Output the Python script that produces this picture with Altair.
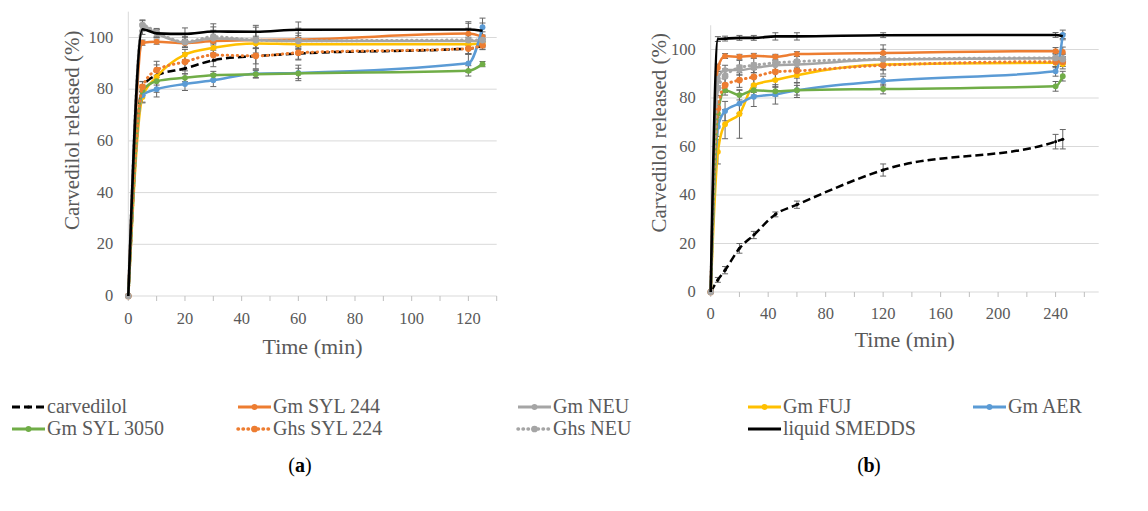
import altair as alt
import pandas as pd

FONT = "Liberation Serif"
TXT = "#595959"
AXC = "#D9D9D9"
TICKC = "#BFBFBF"
ERRC = "#666666"
W, H = 1132, 495

series = ["carvedilol", "Gm SYL 244", "Gm NEU", "Gm FUJ", "Gm AER",
          "Gm SYL 3050", "Ghs SYL 224", "Ghs NEU", "liquid SMEDDS"]

# ---- panel (a) ----
time_a = [0, 5, 10, 20, 30, 45, 60, 120, 125]
a_carvedilol = [0, 81.0, 85.4, 88.0, 91.2, 92.8, 93.8, 95.7, 96.8]
a_gm_syl244 = [0, 98.0, 98.4, 97.8, 98.6, 99.0, 99.2, 101.5, 100.2]
a_gm_neu = [0, 104.5, 101.5, 98.1, 99.6, 99.0, 98.6, 98.6, 98.6]
a_gm_fuj = [0, 77.0, 84.8, 93.4, 96.0, 97.7, 97.4, 97.4, 97.7]
a_gm_aer = [0, 77.7, 80.0, 82.0, 83.5, 86.0, 86.3, 90.0, 104.0]
a_gm_syl3050 = [0, 79.6, 83.1, 84.4, 85.4, 85.8, 86.1, 87.1, 89.7]
a_ghs_syl224 = [0, 80.9, 87.4, 90.6, 93.2, 92.9, 94.1, 95.7, 97.0]
a_ghs_neu = [0, 104.8, 102.0, 98.3, 100.3, 99.0, 98.7, 99.0, 99.0]
a_smedds = [0, 103.2, 101.6, 101.4, 102.3, 102.2, 103.0, 103.1, 102.6]

a_err_carvedilol = [0, 2, 2, 2, 2.5, 3, 2.5, 2, 1.5]
a_err_gm_syl244 = [0, 1, 1, 1.5, 1.5, 1.5, 1.5, 4, 2]
a_err_gm_neu = [0, 2, 1.5, 2, 4.5, 5, 5, 5, 2]
a_err_gm_fuj = [0, 2, 6, 2, 2, 2, 2, 1.5, 1.5]
a_err_gm_aer = [0, 3, 3, 2.5, 2.5, 1.5, 3, 3.5, 3.5]
a_err_gm_syl3050 = [0, 2, 1.5, 1.5, 1.5, 1.5, 2, 2, 1]
a_err_ghs_syl224 = [0, 2, 2, 3.5, 2.5, 5, 2.5, 2, 1.5]
a_err_ghs_neu = [0, 2, 1.5, 2, 2.5, 3, 3, 2, 2]
a_err_smedds = [0, 2, 1.5, 2.3, 3, 2.5, 3, 3, 3]

# ---- panel (b) ----
time_b = [0, 5, 10, 20, 30, 45, 60, 120, 240, 245]
b_carvedilol = [0, 5.0, 9.0, 18.0, 23.5, 32.0, 36.0, 50.3, 62.0, 63.0]
b_gm_syl244 = [0, 92.5, 97.3, 97.0, 97.4, 97.0, 98.1, 98.6, 99.3, 99.0]
b_gm_neu = [0, 88.0, 91.5, 91.5, 92.4, 93.5, 93.8, 95.9, 96.4, 96.5]
b_gm_fuj = [0, 57.8, 69.2, 73.4, 85.3, 87.4, 89.4, 93.8, 94.5, 94.0]
b_gm_aer = [0, 68.1, 74.6, 77.7, 80.5, 81.5, 83.2, 87.0, 91.0, 106.0]
b_gm_syl3050 = [0, 73.6, 83.2, 81.2, 83.2, 82.8, 83.2, 83.7, 84.8, 89.0]
b_ghs_syl224 = [0, 75.7, 85.3, 87.4, 88.7, 90.8, 91.2, 93.5, 95.0, 95.0]
b_ghs_neu = [0, 84.0, 89.0, 92.5, 93.5, 94.5, 95.0, 96.0, 96.5, 96.0]
b_smedds = [0, 104.3, 104.5, 104.8, 104.8, 105.4, 105.4, 105.9, 106.0, 105.5]

b_err_carvedilol = [0, 1, 1.5, 2, 1.5, 1, 1.5, 2.5, 3, 4]
b_err_gm_syl244 = [0, 1.5, 1, 1, 1, 1, 1, 1.5, 1.5, 2]
b_err_gm_neu = [0, 3, 2, 2, 2, 2, 2, 6, 2, 2]
b_err_gm_fuj = [0, 5, 6, 10, 3, 3, 3, 2, 2, 2]
b_err_gm_aer = [0, 4, 4, 4, 4, 4, 3, 2, 2, 2]
b_err_gm_syl3050 = [0, 3, 2, 2, 2, 2, 2, 2, 2, 2]
b_err_ghs_syl224 = [0, 3, 3, 3, 3, 3, 3, 2, 2, 2]
b_err_ghs_neu = [0, 3, 3, 3, 3, 3, 3, 2, 2, 2]
b_err_smedds = [0, 1, 1, 1, 1, 1.5, 1.5, 1, 1, 1]

# axis ticks / labels
y_ticks = [0, 20, 40, 60, 80, 100]
grid_vals = [20, 40, 60, 80, 100]
x_ticks_a = [0, 10, 20, 30, 40, 50, 60, 70, 80, 90, 100, 110, 120, 130]
x_labels_a = [0, 20, 40, 60, 80, 100, 120]
x_ticks_b = [0, 20, 40, 60, 80, 100, 120, 140, 160, 180, 200, 220, 240, 260]
x_labels_b = [0, 40, 80, 120, 160, 200, 240]
x_title = "Time (min)"
y_title = "Carvedilol released (%)"
panel_labels = ["a", "b"]

vals_a = dict(zip(series, [a_carvedilol, a_gm_syl244, a_gm_neu, a_gm_fuj, a_gm_aer,
                           a_gm_syl3050, a_ghs_syl224, a_ghs_neu, a_smedds]))
errs_a = dict(zip(series, [a_err_carvedilol, a_err_gm_syl244, a_err_gm_neu, a_err_gm_fuj,
                           a_err_gm_aer, a_err_gm_syl3050, a_err_ghs_syl224, a_err_ghs_neu,
                           a_err_smedds]))
vals_b = dict(zip(series, [b_carvedilol, b_gm_syl244, b_gm_neu, b_gm_fuj, b_gm_aer,
                           b_gm_syl3050, b_ghs_syl224, b_ghs_neu, b_smedds]))
errs_b = dict(zip(series, [b_err_carvedilol, b_err_gm_syl244, b_err_gm_neu, b_err_gm_fuj,
                           b_err_gm_aer, b_err_gm_syl3050, b_err_ghs_syl224, b_err_ghs_neu,
                           b_err_smedds]))

DOT = [0.5, 4.5]
style = {
    "carvedilol": dict(color="#000000", dash=[8, 4], width=2.5, size=10, cap="butt"),
    "Gm SYL 244": dict(color="#ED7D31", dash=None, width=2.5, size=34, cap="butt"),
    "Gm NEU": dict(color="#A5A5A5", dash=None, width=2.5, size=34, cap="butt"),
    "Gm FUJ": dict(color="#FFC000", dash=None, width=2.5, size=34, cap="butt"),
    "Gm AER": dict(color="#5B9BD5", dash=None, width=2.5, size=34, cap="butt"),
    "Gm SYL 3050": dict(color="#70AD47", dash=None, width=2.5, size=34, cap="butt"),
    "Ghs SYL 224": dict(color="#ED7D31", dash=DOT, width=3.0, size=45, cap="round"),
    "Ghs NEU": dict(color="#A5A5A5", dash=DOT, width=3.0, size=45, cap="round"),
    "liquid SMEDDS": dict(color="#000000", dash=None, width=2.6, size=0, cap="butt"),
}


def line_mark(st):
    kw = dict(interpolate="monotone", color=st["color"], strokeWidth=st["width"],
              strokeCap=st["cap"])
    if st["dash"]:
        kw["strokeDash"] = st["dash"]
    return kw


def make_panel(times, vals, errs, xmax, x_ticks, x_labels, xr, yr, lab_dy, ytitle_dx,
               ytitle_dy, xtitle_dy):
    xs = alt.Scale(domain=[0, xmax], range=xr, nice=False, zero=False)
    ys = alt.Scale(domain=[0, 110], range=yr, nice=False, zero=False)

    def X(f):
        return alt.X(f, scale=xs, axis=None)

    def Y(f):
        return alt.Y(f, scale=ys, axis=None)

    layers = []
    # gridlines
    gdf = pd.DataFrame({"gy": grid_vals, "gx0": 0, "gx1": xmax})
    layers.append(alt.Chart(gdf).mark_rule(color=AXC, strokeWidth=1).encode(
        x=X("gx0:Q"), x2="gx1:Q", y=Y("gy:Q")))
    # axis lines
    ad = pd.DataFrame({"z": [0], "xm": [xmax], "ym": [110]})
    layers.append(alt.Chart(ad).mark_rule(color=AXC, strokeWidth=1).encode(
        x=X("z:Q"), x2="xm:Q", y=Y("z:Q")))
    layers.append(alt.Chart(ad).mark_rule(color=AXC, strokeWidth=1).encode(
        x=X("z:Q"), y=Y("z:Q"), y2="ym:Q"))
    # x ticks
    tdf = pd.DataFrame({"t": x_ticks, "z": 0})
    layers.append(alt.Chart(tdf).mark_rule(color=TICKC, strokeWidth=1, y2Offset=5).encode(
        x=X("t:Q"), y=Y("z:Q"), y2="z:Q"))
    # x labels
    ldf = pd.DataFrame({"t": x_labels, "z": 0, "lab": [str(v) for v in x_labels]})
    layers.append(alt.Chart(ldf).mark_text(baseline="top", align="center", yOffset=lab_dy,
                                           font=FONT, fontSize=16.5, color=TXT).encode(
        x=X("t:Q"), y=Y("z:Q"), text="lab:N"))
    # y labels
    ydf = pd.DataFrame({"v": y_ticks, "z": 0, "lab": [str(v) for v in y_ticks]})
    layers.append(alt.Chart(ydf).mark_text(baseline="middle", align="right", xOffset=-15,
                                           font=FONT, fontSize=16.5, color=TXT).encode(
        x=X("z:Q"), y=Y("v:Q"), text="lab:N"))
    # axis titles
    xt = pd.DataFrame({"c": [xmax / 2], "z": [0], "lab": [x_title]})
    layers.append(alt.Chart(xt).mark_text(baseline="top", align="center", yOffset=xtitle_dy,
                                          font=FONT, fontSize=22, color=TXT).encode(
        x=X("c:Q"), y=Y("z:Q"), text="lab:N"))
    yt = pd.DataFrame({"z": [0], "ym": [110], "lab": [y_title]})
    layers.append(alt.Chart(yt).mark_text(baseline="middle", align="center", angle=270,
                                          xOffset=ytitle_dx, yOffset=ytitle_dy,
                                          font=FONT, fontSize=21, color=TXT).encode(
        x=X("z:Q"), y=Y("ym:Q"), text="lab:N"))

    # error bars
    rows = []
    for s in series:
        for t, v, e in zip(times, vals[s], errs[s]):
            if e > 0:
                rows.append({"s": s, "t": t, "lo": v - e, "hi": v + e})
    edf = pd.DataFrame(rows)
    cdf = edf.melt(id_vars=["s", "t"], value_vars=["lo", "hi"], value_name="c")
    layers.append(alt.Chart(edf).mark_rule(color=ERRC, strokeWidth=1).encode(
        x=X("t:Q"), y=Y("lo:Q"), y2="hi:Q"))
    layers.append(alt.Chart(cdf).mark_rule(color=ERRC, strokeWidth=1, xOffset=-3,
                                           x2Offset=3).encode(
        x=X("t:Q"), x2="t:Q", y=Y("c:Q")))

    for s in series:
        st = style[s]
        df = pd.DataFrame({"t": times, "v": vals[s]})
        enc = dict(x=X("t:Q"), y=Y("v:Q"))
        layers.append(alt.Chart(df).mark_line(**line_mark(st)).encode(**enc))
        if st["size"] > 0:
            layers.append(alt.Chart(df).mark_point(filled=True, shape="circle", size=st["size"],
                                                   color=st["color"], opacity=1).encode(**enc))
    return alt.layer(*layers)


panel_a = make_panel(time_a, vals_a, errs_a, 130, x_ticks_a, x_labels_a,
                     [120.3, 488.7], [288, 3.65], 15.3, -55.8, 118.6, 41)
panel_b = make_panel(time_b, vals_b, errs_b, 270, x_ticks_b, x_labels_b,
                     [702.7, 1090.7], [284, 17.25], 14.3, -50.8, 107.5, 38)

# ---- legend ----
leg_x = alt.Scale(domain=[0, 1, 2, 3, 4], range=[4, 230, 510, 740, 965], nice=False, zero=False)
leg_y = alt.Scale(domain=[0, 1], range=[399, 421], nice=False, zero=False)
leg_layers = []
for i, s in enumerate(series):
    st = style[s]
    df = pd.DataFrame({"col": [i % 5], "row": [i // 5], "name": [s]})
    enc = dict(x=alt.X("col:Q", scale=leg_x, axis=None), y=alt.Y("row:Q", scale=leg_y, axis=None))
    rk = dict(color=st["color"], strokeWidth=st["width"] + 0.5, strokeCap=st["cap"], x2Offset=33)
    if st["dash"]:
        rk["strokeDash"] = st["dash"]
    leg_layers.append(alt.Chart(df).mark_rule(**rk).encode(x2="col:Q", **enc))
    if st["size"] > 0:
        leg_layers.append(alt.Chart(df).mark_point(filled=True, shape="circle", size=st["size"],
                                                   color=st["color"], opacity=1,
                                                   xOffset=16.5).encode(**enc))
    leg_layers.append(alt.Chart(df).mark_text(align="left", baseline="middle", xOffset=35,
                                              font=FONT, fontSize=20, color=TXT).encode(
        text="name:N", **enc))
legend = alt.layer(*leg_layers)

# ---- (a) / (b) ----
pdf = pd.DataFrame({"p": [0, 1], "r": [0, 0], "L": panel_labels})
lx = alt.Scale(domain=[0, 1], range=[292, 861], nice=False, zero=False)
ly = alt.Scale(domain=[0, 1], range=[458, 480], nice=False, zero=False)
lenc = dict(x=alt.X("p:Q", scale=lx, axis=None), y=alt.Y("r:Q", scale=ly, axis=None))
labels = alt.layer(
    alt.Chart(pdf).mark_text(align="right", baseline="middle", xOffset=-5, font=FONT,
                             fontSize=20, color="#000000", text="(").encode(**lenc),
    alt.Chart(pdf).mark_text(align="center", baseline="middle", font=FONT, fontSize=20,
                             fontWeight="bold", color="#000000").encode(text="L:N", **lenc),
    alt.Chart(pdf).mark_text(align="left", baseline="middle", xOffset=5, font=FONT,
                             fontSize=20, color="#000000", text=")").encode(**lenc),
)

chart = alt.layer(panel_a, panel_b, legend, labels).resolve_scale(
    x="independent", y="independent").properties(
    width=W, height=H, padding=0, autosize=alt.AutoSizeParams(type="none")
).configure_view(stroke=None)

chart.save("out.html", embed_options={"renderer": "svg", "actions": False})
